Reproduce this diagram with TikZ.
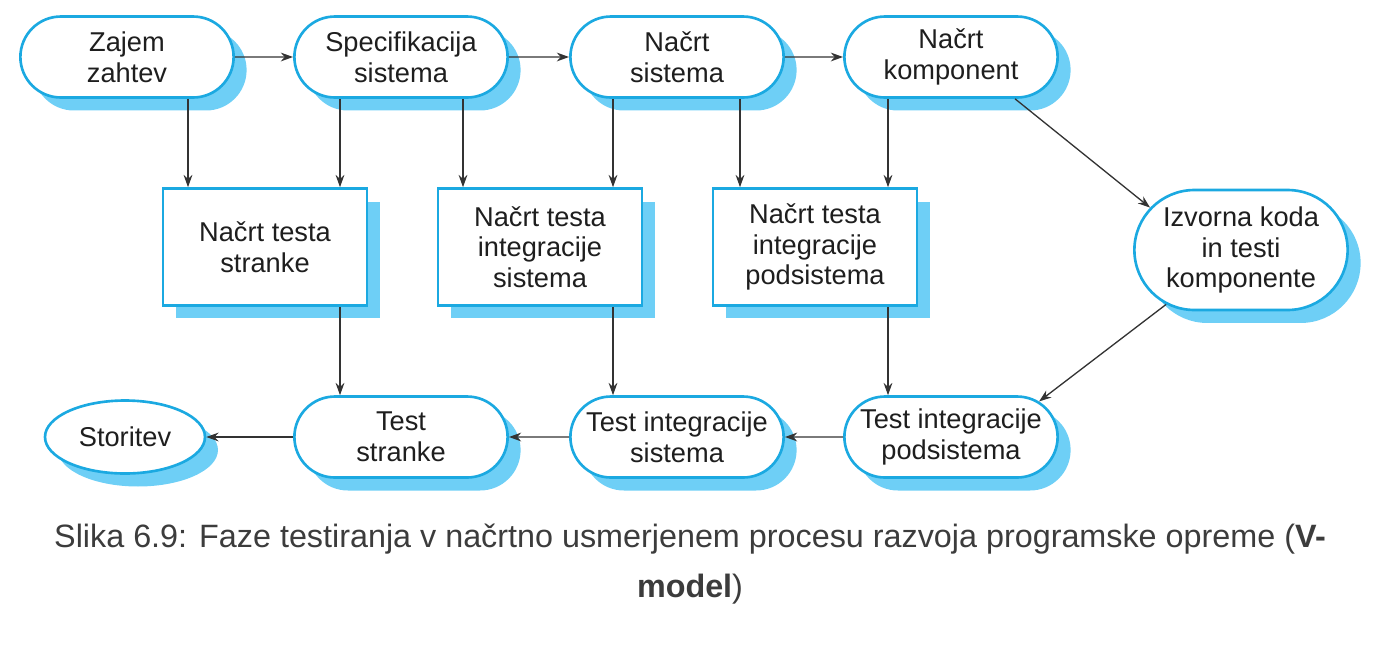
\documentclass[tikz,border=0pt]{standalone}
\usepackage{fontspec}
\setmainfont{Liberation Sans}
\usetikzlibrary{
  arrows.meta,
  calc,
  positioning,
  shapes.geometric,
  shapes.misc,
  shadows
}
\definecolor{vblue}{RGB}{27,169,225}
\definecolor{vshadow}{RGB}{110,207,246}
\definecolor{vtext}{RGB}{30,30,30}
\definecolor{capgray}{RGB}{60,60,60}

\begin{document}
\begin{tikzpicture}[x=0.02cm, y=-0.02cm,
  vshad/.style={drop shadow={shadow xshift=0.26cm, shadow yshift=-0.26cm, fill=vshadow, opacity=1}},
  phase/.style={rounded rectangle, draw=vblue, line width=1.5pt, fill=white, vshad,
    minimum width=4.5cm, minimum height=1.62cm, align=center, text=vtext,
    font=\fontsize{15.5}{17.5}\selectfont},
  plan/.style={rectangle, draw=vblue, line width=1.5pt, fill=white, vshad,
    minimum width=4.08cm, minimum height=2.34cm, align=center, text=vtext,
    font=\fontsize{15.5}{17.5}\selectfont},
  arr/.style={-{Stealth[length=7pt,width=5pt]}, draw=black!80, line width=0.75pt}]
  \useasboundingbox (0,0) rectangle (1379,650);
  % Top row
  \node[phase] (zajem) at (127,57) {Zajem\\zahtev};
  \node[phase] (spec) at (401,57) {Specifikacija\\sistema};
  \node[phase] (nsis) at (677,57) {Načrt\\sistema};
  \node[phase] (nkomp) at (951,57) {Načrt\\komponent};
  % Test plans
  \node[plan] (pstr) at (265,247) {Načrt testa\\stranke};
  \node[plan] (psis) at (540,247) {Načrt testa\\integracije\\sistema};
  \node[plan] (ppod) at (815,247) {Načrt testa\\integracije\\podsistema};
  \node[phase, minimum height=2.4cm] (koda) at (1241,250) {Izvorna koda\\in testi\\komponente};
  % Bottom row
  \node[ellipse, draw=vblue, line width=1.5pt, fill=white, vshad, minimum width=3.2cm,
    minimum height=1.46cm, text=vtext, font=\fontsize{15.5}{17.5}\selectfont] (stor) at (125,437) {Storitev};
  \node[phase] (tstr) at (401,437) {Test\\stranke};
  \node[phase] (tsis) at (677,437) {Test integracije\\sistema};
  \node[phase] (tpod) at (951,437) {Test integracije\\podsistema};
  % Arrows
  \draw[arr] (zajem) -- (spec);
  \draw[arr] (spec) -- (nsis);
  \draw[arr] (nsis) -- (nkomp);
  \draw[arr] (zajem.south -| 188,0) -- (pstr.north -| 188,0);
  \draw[arr] (spec.south -| 340,0) -- (pstr.north -| 340,0);
  \draw[arr] (spec.south -| 463,0) -- (psis.north -| 463,0);
  \draw[arr] (nsis.south -| 613,0) -- (psis.north -| 613,0);
  \draw[arr] (nsis.south -| 740,0) -- (ppod.north -| 740,0);
  \draw[arr] (nkomp.south -| 888,0) -- (ppod.north -| 888,0);
  \draw[arr] (nkomp.south -| 1015,0) -- (koda.155);
  \draw[arr] (pstr.south -| 340,0) -- (tstr.north -| 340,0);
  \draw[arr] (psis.south -| 613,0) -- (tsis.north -| 613,0);
  \draw[arr] (ppod.south -| 888,0) -- (tpod.north -| 888,0);
  \draw[arr] (koda.216) -- (tpod.22);
  \draw[arr] (tpod) -- (tsis);
  \draw[arr] (tsis) -- (tstr);
  \draw[arr] (tstr) -- (stor);
  % Caption
  \node[text=capgray, align=center, font=\fontsize{18.4}{28}\selectfont] (cap) at (690,564)
    {Slika 6.9: Faze testiranja v načrtno usmerjenem procesu razvoja programske opreme (\textbf{V-}\\\textbf{model})};
\end{tikzpicture}
\end{document}
